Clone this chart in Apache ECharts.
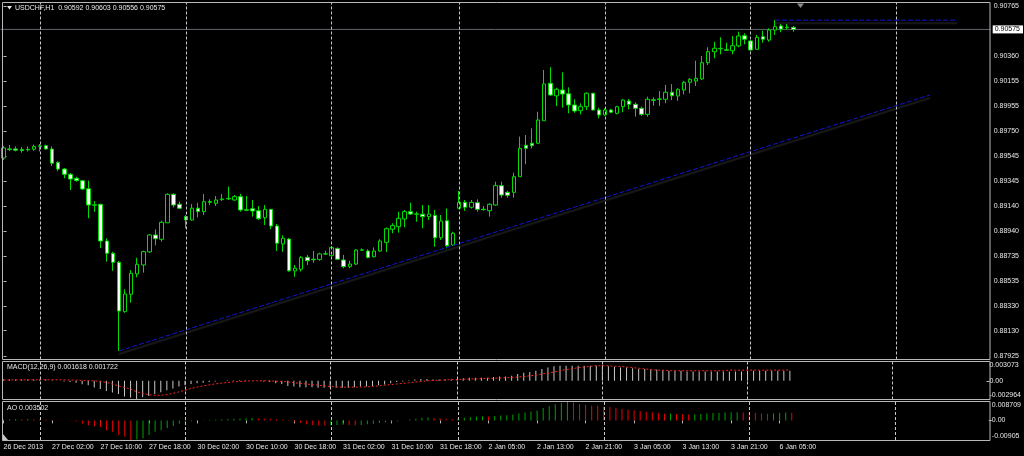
<!DOCTYPE html>
<html>
<head>
<meta charset="utf-8">
<script src="https://cdn.jsdelivr.net/npm/echarts@6/dist/echarts.min.js"></script>
<style>
html,body{margin:0;padding:0;background:#000;}
#c{width:1024px;height:456px;}
</style>
</head>
<body>
<div id="c"></div>
<script>
// ---------- DATA ----------
const symbolName = 'USDCHF,H1';
const sessions = [['26 Dec',18,23],['27 Dec',0,23],['30 Dec',0,23],['31 Dec',0,20],['2 Jan',0,23],['3 Jan',0,23],['6 Jan',0,23],['7 Jan',0,15]];

const tickIdx  = [0, 8, 16, 24, 32, 40, 48, 56, 64, 72, 80, 88, 96, 104, 112, 120, 128];
const tickText = ['26 Dec 2013','27 Dec 02:00','27 Dec 10:00','27 Dec 18:00','30 Dec 02:00','30 Dec 10:00','30 Dec 18:00',
  '31 Dec 02:00','31 Dec 10:00','31 Dec 18:00','2 Jan 05:00','2 Jan 13:00','2 Jan 21:00','3 Jan 05:00','3 Jan 13:00','3 Jan 21:00','6 Jan 05:00'];

const priceTicks = [0.90765,0.90360,0.90155,0.89955,0.89750,0.89545,0.89345,0.89140,0.88940,0.88735,0.88535,0.88330,0.88130,0.87925];
const macdRange = [-0.002964, 0.003073];
const aoRange = [-0.00905, 0.008709];

const opens = [
0.89532,0.89605,0.89605,0.89600,0.89598,0.89603,0.89626,0.89632,0.89604,0.89496,
0.89442,0.89399,0.89367,0.89348,0.89282,0.89148,0.89156,0.88858,0.88758,0.88685,
0.88285,0.88426,0.88591,0.88664,0.88770,0.88907,0.88872,0.89006,0.89237,0.89156,
0.89056,0.89029,0.89124,0.89096,0.89178,0.89164,0.89194,0.89200,0.89191,0.89218,
0.89112,0.89120,0.89104,0.89047,0.89115,0.88980,0.88834,0.88874,0.88615,0.88629,
0.88726,0.88711,0.88709,0.88752,0.88739,0.88798,0.88704,0.88650,0.88671,0.88783,
0.88777,0.88730,0.88777,0.88847,0.88953,0.88974,0.89037,0.89096,0.89075,0.89075,
0.89056,0.89066,0.88885,0.89023,0.88826,0.89124,0.89172,0.89132,0.89169,0.89116,
0.89104,0.89150,0.89307,0.89253,0.89253,0.89380,0.89635,0.89651,0.89651,0.89834,
0.90138,0.90036,0.90083,0.90053,0.89962,0.89915,0.89948,0.90057,0.89921,0.89881,
0.89921,0.89894,0.89948,0.89994,0.89967,0.89935,0.89886,0.90004,0.90007,0.90008,
0.90065,0.90035,0.90083,0.90146,0.90156,0.90173,0.90305,0.90394,0.90418,0.90410,
0.90402,0.90441,0.90524,0.90481,0.90414,0.90516,0.90489,0.90570,0.90603,0.90590,
0.90592];
const highs = [
0.89629,0.89637,0.89625,0.89621,0.89625,0.89640,0.89645,0.89640,0.89625,0.89505,
0.89450,0.89410,0.89380,0.89354,0.89348,0.89182,0.89160,0.88880,0.88770,0.88695,
0.88466,0.88623,0.88723,0.88780,0.88915,0.88952,0.89023,0.89245,0.89245,0.89177,
0.89069,0.89158,0.89168,0.89240,0.89197,0.89223,0.89240,0.89300,0.89231,0.89240,
0.89223,0.89191,0.89142,0.89150,0.89118,0.88996,0.88904,0.88882,0.88663,0.88736,
0.88745,0.88777,0.88763,0.88779,0.88818,0.88806,0.88745,0.88698,0.88793,0.88798,
0.88791,0.88806,0.88872,0.88969,0.89002,0.89096,0.89110,0.89169,0.89096,0.89150,
0.89150,0.89110,0.89069,0.89123,0.88934,0.89264,0.89191,0.89191,0.89196,0.89142,
0.89164,0.89339,0.89339,0.89266,0.89412,0.89705,0.89718,0.89772,0.89907,0.90246,
0.90268,0.90102,0.90227,0.90105,0.90008,0.89975,0.90065,0.90060,0.89940,0.89935,
0.89930,0.89955,0.90010,0.90010,0.89983,0.89948,0.90029,0.90024,0.90075,0.90124,
0.90131,0.90097,0.90157,0.90180,0.90321,0.90359,0.90430,0.90475,0.90511,0.90467,
0.90521,0.90557,0.90543,0.90489,0.90530,0.90565,0.90584,0.90650,0.90619,0.90619,
0.90603];
const lows = [
0.89515,0.89588,0.89585,0.89575,0.89585,0.89590,0.89585,0.89600,0.89467,0.89425,
0.89368,0.89272,0.89340,0.89272,0.89043,0.89096,0.88801,0.88690,0.88616,0.87966,
0.88276,0.88358,0.88563,0.88601,0.88762,0.88823,0.88853,0.89006,0.89131,0.89118,
0.88961,0.89023,0.89050,0.89069,0.89150,0.89142,0.89183,0.89191,0.89185,0.89096,
0.89102,0.89056,0.89029,0.88988,0.88953,0.88777,0.88771,0.88608,0.88568,0.88610,
0.88663,0.88682,0.88698,0.88745,0.88736,0.88704,0.88637,0.88637,0.88663,0.88779,
0.88717,0.88725,0.88769,0.88769,0.88921,0.88926,0.88969,0.89069,0.89015,0.88961,
0.89029,0.88812,0.88866,0.88798,0.88818,0.89118,0.89102,0.89121,0.89096,0.89104,
0.89056,0.89145,0.89210,0.89210,0.89210,0.89380,0.89481,0.89610,0.89651,0.89834,
0.90035,0.89954,0.89940,0.89895,0.89899,0.89886,0.89921,0.89918,0.89854,0.89875,
0.89895,0.89886,0.89903,0.89927,0.89867,0.89873,0.89867,0.89956,0.89954,0.89976,
0.90002,0.89995,0.90048,0.90057,0.90116,0.90165,0.90286,0.90341,0.90373,0.90400,
0.90373,0.90430,0.90454,0.90403,0.90410,0.90467,0.90475,0.90530,0.90552,0.90575,
0.90556];
const closes = [
0.89613,0.89600,0.89595,0.89592,0.89602,0.89625,0.89630,0.89605,0.89490,0.89442,
0.89399,0.89361,0.89348,0.89280,0.89150,0.89152,0.88858,0.88758,0.88685,0.88290,
0.88428,0.88596,0.88669,0.88772,0.88907,0.88877,0.89010,0.89237,0.89150,0.89124,
0.89029,0.89124,0.89097,0.89177,0.89172,0.89191,0.89199,0.89204,0.89218,0.89110,
0.89108,0.89102,0.89039,0.89115,0.88980,0.88840,0.88880,0.88617,0.88637,0.88723,
0.88698,0.88706,0.88753,0.88755,0.88804,0.88710,0.88650,0.88671,0.88785,0.88787,
0.88725,0.88777,0.88858,0.88958,0.88983,0.89042,0.89096,0.89077,0.89078,0.89056,
0.89077,0.88885,0.89020,0.88820,0.88921,0.89172,0.89132,0.89172,0.89115,0.89113,
0.89156,0.89307,0.89231,0.89229,0.89380,0.89610,0.89610,0.89632,0.89840,0.90132,
0.90043,0.90089,0.90051,0.89962,0.89913,0.89948,0.90057,0.89921,0.89881,0.89921,
0.89903,0.89948,0.90002,0.89967,0.89935,0.89886,0.90008,0.90000,0.90011,0.90065,
0.90037,0.90089,0.90146,0.90170,0.90178,0.90305,0.90394,0.90422,0.90421,0.90406,
0.90443,0.90522,0.90495,0.90408,0.90511,0.90495,0.90570,0.90597,0.90578,0.90594,
0.90575];

const macdMain = [
0.0002,0.0002,0.0002,0.0002,0.0002,0.0002,0.0002,0.0002,0.0001,0.0000,
-0.0001,-0.0002,-0.0003,-0.00053,-0.0007,-0.00106,-0.0013,-0.0016,-0.00185,-0.0021,
-0.0025,-0.00265,-0.00296,-0.0026,-0.0024,-0.0021,-0.0018,-0.0015,-0.0012,-0.0009,
-0.0007,-0.0005,-0.0004,-0.0003,-0.0002,-0.0001,0.0000,0.0001,0.0001,0.0001,
0.0001,0.0000,0.0000,-0.0001,-0.0002,-0.0004,-0.0005,-0.0008,-0.0009,-0.0010,
-0.0010,-0.0010,-0.0011,-0.0011,-0.0011,-0.0011,-0.0011,-0.0011,-0.0010,-0.0009,
-0.0009,-0.0008,-0.0007,-0.0006,-0.0004,-0.0002,-0.0001,0.0001,0.0002,0.0003,
0.0003,0.0002,0.0002,0.0002,0.0002,0.0003,0.0004,0.0005,0.0005,0.0005,
0.0005,0.0006,0.0007,0.0007,0.0008,0.0011,0.0013,0.0014,0.0016,0.0019,
0.0021,0.0023,0.0024,0.0024,0.0024,0.0024,0.0024,0.0024,0.0024,0.0025,
0.0023,0.0022,0.0021,0.0021,0.0020,0.0019,0.0019,0.0018,0.0018,0.0017,
0.0016,0.0016,0.0016,0.0015,0.0015,0.0015,0.0015,0.0015,0.0015,0.0015,
0.0015,0.0015,0.0015,0.0016,0.0016,0.0016,0.0016,0.0016,0.0016,0.0016,
0.001618];
const macdSignal = [
0.00015,0.00015,0.00016,0.00016,0.00016,0.00017,0.00017,0.00017,0.00017,0.00016,
0.00015,0.00013,0.0001,0.00007,0.00004,0.0,-0.0001,-0.00026,-0.0005,-0.0008,
-0.00105,-0.0013,-0.00175,-0.00196,-0.0022,-0.0023,-0.0023,-0.0022,-0.002,-0.00175,
-0.0015,-0.0012,-0.001,-0.0008,-0.00064,-0.00048,-0.00037,-0.00027,-0.00016,-0.0001,
-0.00005,0,0,0,0,-0.00005,-0.0001,-0.00016,-0.0003,-0.0004,
-0.0005,-0.0006,-0.0007,-0.0008,-0.0009,-0.00095,-0.001,-0.001,-0.001,-0.001,
-0.00095,-0.0009,-0.0008,-0.0007,-0.0006,-0.0005,-0.0004,-0.0003,-0.0002,-0.0001,
0,0.00005,0.0001,0.00015,0.0002,0.0002,0.00025,0.0003,0.0003,0.00035,
0.0004,0.0004,0.00045,0.0005,0.00055,0.0006,0.0007,0.0008,0.0009,0.0011,
0.0012,0.0014,0.0016,0.0018,0.0019,0.0021,0.0022,0.0023,0.0024,0.0024,
0.0024,0.0023,0.0023,0.0022,0.0021,0.002,0.0019,0.0018,0.0017,0.0017,
0.0016,0.0016,0.0016,0.0016,0.0016,0.0016,0.0016,0.0016,0.0016,0.0016,
0.0017,0.0017,0.0017,0.0017,0.0017,0.0017,0.0017,0.0017,0.0017,0.0017,
0.001722];
const aoValues = [
0.0004,0.0005,0.0006,0.0005,0.0006,0.0005,0.0004,0.0003,0.0002,0.0001,
0.0000,-0.0002,-0.0005,-0.0015,-0.0023,-0.0027,-0.0030,-0.0046,-0.0053,-0.0068,
-0.0076,-0.00905,-0.0088,-0.0083,-0.0068,-0.0053,-0.0046,-0.0035,-0.0026,-0.0015,
-0.0008,-0.0004,-0.0002,0.0001,0.0002,0.0003,0.0005,0.0006,0.0008,0.0009,
0.0010,0.0011,0.0010,0.0009,0.0007,0.0005,0.0002,-0.0002,-0.0006,-0.0012,
-0.0018,-0.0021,-0.0024,-0.0025,-0.0023,-0.0021,-0.0020,-0.0022,-0.0023,-0.0021,
-0.0018,-0.0015,-0.0012,-0.0009,-0.0006,-0.0004,-0.0001,0.0004,0.0008,0.0012,
0.0013,0.0011,0.0010,0.0008,0.0006,0.0009,0.0012,0.0015,0.0018,0.0019,
0.0018,0.0020,0.0023,0.0024,0.0027,0.0032,0.0036,0.0041,0.0046,0.0057,
0.0065,0.0074,0.0080,0.008709,0.0083,0.0076,0.0072,0.0068,0.0067,0.0064,
0.0062,0.0058,0.0053,0.0050,0.0047,0.0043,0.0040,0.0037,0.0034,0.0031,
0.0032,0.0030,0.0028,0.0027,0.0028,0.0030,0.0032,0.0034,0.0035,0.0036,
0.0037,0.0038,0.0036,0.0035,0.0034,0.0032,0.0031,0.0033,0.0035,0.0036,
0.003502];

// trend line anchors [bar index, price] and horizontal resistance line
const trendLine = [[19, 0.87966], [152.5, 0.90043]];
const highLine  = [[127, 0.90650], [157, 0.90650]];

// ---------- BUILD ----------
const categories = [];
sessions.forEach(([d, h0, h1]) => { for (let h = h0; h <= h1; h++) categories.push(d + ' ' + String(h).padStart(2, '0') + ':00'); });
const daySeps = [];
categories.forEach((c, i) => { if (c.endsWith(' 00:00')) daySeps.push(i); });
const N = categories.length;
const last = closes.length - 1;
const bid = closes[last];
const bidLine = [[-0.5, bid], [N - 0.5, bid]];

const FONT = 'Liberation Sans';
const TXT = '#e8e8e8';
const CANDLE = '#00dc00';
const GRIDC = '#c8c8c8';
const FRAME = '#b8b8b8';
const NAVY = '#1414d2';

const candleData = opens.map((o, i) => [o, closes[i], lows[i], highs[i]]);
const aoData = aoValues.map((v, i) => ({ value: v, itemStyle: { color: (i === 0 || v > aoValues[i - 1]) ? '#00a000' : '#f00000' } }));

const sepLines = daySeps.map(i => ({ xAxis: i }));
const sepMark = {
  silent: true, symbol: ['none', 'none'], label: { show: false },
  lineStyle: { color: GRIDC, type: [3, 2], width: 1 },
  data: sepLines
};

const pMin = 0.878966, pMax = 0.907893;
const L = 0.5, W = 990.2;

function subAxis(gi, range, padTop, padBot) {
  const [mn, mx] = range;
  return {
    type: 'value', gridIndex: gi, position: 'right', min: mn, max: mx,
    splitLine: { show: false }, axisLine: { show: false },
    axisTick: { show: true, length: 3, customValues: [0], lineStyle: { color: FRAME } },
    axisLabel: {
      customValues: [mx, 0, mn], margin: 3, color: TXT, fontSize: 7, fontFamily: FONT,
      formatter: v => {
        if (Math.abs(v - mx) < 1e-9) return '{t|' + mx + '}';
        if (Math.abs(v - mn) < 1e-9) return '{b|' + mn + '}';
        return '0.00';
      },
      rich: {
        t: { padding: [padTop, 0, 0, 0], color: TXT, fontSize: 7, fontFamily: FONT },
        b: { padding: [0, 0, padBot, 0], color: TXT, fontSize: 7, fontFamily: FONT }
      }
    }
  };
}

const txt = { color: TXT, fontSize: 7, fontWeight: 'normal', fontFamily: FONT };
const shadowLine = { color: '#000', width: 2, type: 'solid', shadowColor: 'rgba(26,26,26,1)', shadowBlur: 1, shadowOffsetY: 3 };
const navyLine = { color: NAVY, width: 1, type: [5, 2] };

const option = {
  backgroundColor: '#000',
  animation: false,
  title: [
    { text: symbolName + '  ' + [opens[last], highs[last], lows[last], closes[last]].map(v => v.toFixed(5)).join(' '),
      left: 15, top: 5, padding: 0, textStyle: txt },
    { text: 'MACD(12,26,9) ' + macdMain[last].toFixed(6) + ' ' + macdSignal[last].toFixed(6),
      left: 7, top: 364, padding: 0, textStyle: txt },
    { text: 'AO ' + aoValues[last].toFixed(6), left: 7, top: 404.5, padding: 0, textStyle: txt }
  ],
  grid: [
    { left: L, width: W, top: 3, height: 356.5 },
    { left: L, width: W, top: 361.5, height: 38 },
    { left: L, width: W, top: 401.5, height: 38.5 }
  ],
  xAxis: [
    { type: 'category', gridIndex: 0, data: categories, show: false },
    { type: 'category', gridIndex: 1, data: categories, show: false },
    { type: 'category', gridIndex: 2, data: categories,
      axisLine: { show: false },
      axisTick: { show: true, alignWithLabel: true, length: 3, interval: i => tickIdx.includes(i), lineStyle: { color: FRAME } },
      axisLabel: { interval: i => tickIdx.includes(i), align: 'left', margin: 4, color: TXT, fontSize: 7, fontFamily: FONT,
        formatter: (v, i) => tickText[tickIdx.indexOf(i)] || '' } },
    { type: 'value', gridIndex: 0, min: -0.5, max: N - 0.5, show: false }
  ],
  yAxis: [
    { type: 'value', gridIndex: 0, position: 'right', min: pMin, max: pMax,
      splitLine: { show: false }, axisLine: { show: false },
      axisTick: { show: true, length: 3, customValues: priceTicks, lineStyle: { color: FRAME } },
      axisLabel: { customValues: priceTicks, margin: 3, color: TXT, fontSize: 7, fontFamily: FONT, formatter: v => v.toFixed(5) } },
    subAxis(1, macdRange, 7, 8),
    subAxis(2, aoRange, 8, 7)
  ],
  graphic: [
    { type: 'rect', silent: true, z: 100, shape: { x: 2.5, y: 2.5, width: 987.5, height: 357 }, style: { fill: null, stroke: FRAME, lineWidth: 1 } },
    { type: 'rect', silent: true, z: 100, shape: { x: 2.5, y: 361.5, width: 987.5, height: 38 }, style: { fill: null, stroke: FRAME, lineWidth: 1 } },
    { type: 'rect', silent: true, z: 100, shape: { x: 2.5, y: 401.5, width: 987.5, height: 39 }, style: { fill: null, stroke: FRAME, lineWidth: 1 } },
    { type: 'polygon', silent: true, z: 100, shape: { points: [[7, 6], [12, 6], [9.5, 9.5]] }, style: { fill: TXT } },
    { type: 'polygon', silent: true, z: 100, shape: { points: [[797, 3.5], [804, 3.5], [800.5, 8]] }, style: { fill: '#8a8a8a' } },
    { type: 'polygon', silent: true, z: 100, shape: { points: [[3, 434], [3, 440], [8, 440]] }, style: { fill: '#c8c8c8' } }
  ],
  series: [
    // shadows of the drawn lines (behind everything)
    { type: 'line', xAxisIndex: 3, yAxisIndex: 0, data: trendLine, symbol: 'none', silent: true, z: 1, lineStyle: shadowLine },
    { type: 'line', xAxisIndex: 3, yAxisIndex: 0, data: highLine, symbol: 'none', silent: true, z: 1, lineStyle: shadowLine },
    // bid line with its price box on the scale
    { type: 'line', xAxisIndex: 3, yAxisIndex: 0, data: bidLine, symbol: 'none', silent: true, z: 2, clip: false,
      lineStyle: { color: '#62666f', width: 1, type: 'solid' },
      endLabel: { show: true, distance: 2, formatter: () => bid.toFixed(5),
        backgroundColor: '#fff', color: '#000', fontSize: 7, fontFamily: FONT, padding: [1, 3, 0, 2] } },
    { type: 'candlestick', xAxisIndex: 0, yAxisIndex: 0, data: candleData, barWidth: 4, z: 3,
      itemStyle: { color: '#000', color0: '#fff', borderColor: CANDLE, borderColor0: CANDLE, borderWidth: 1 },
      markLine: sepMark
    },
    { type: 'line', xAxisIndex: 3, yAxisIndex: 0, data: trendLine, symbol: 'none', silent: true, z: 4, lineStyle: navyLine },
    { type: 'line', xAxisIndex: 3, yAxisIndex: 0, data: highLine, symbol: 'none', silent: true, z: 4, lineStyle: navyLine },
    { type: 'bar', xAxisIndex: 1, yAxisIndex: 1, data: macdMain, barWidth: 1, silent: true,
      itemStyle: { color: '#c8c8c8' }, markLine: sepMark },
    { type: 'line', xAxisIndex: 1, yAxisIndex: 1, data: macdSignal, symbol: 'none', silent: true,
      lineStyle: { color: '#ff2020', width: 1, type: [2, 2] } },
    { type: 'bar', xAxisIndex: 2, yAxisIndex: 2, data: aoData, barWidth: 1, silent: true, markLine: sepMark }
  ]
};

const chart = echarts.init(document.getElementById('c'), null, { renderer: 'canvas' });
chart.setOption(option);
</script>
</body>
</html>
